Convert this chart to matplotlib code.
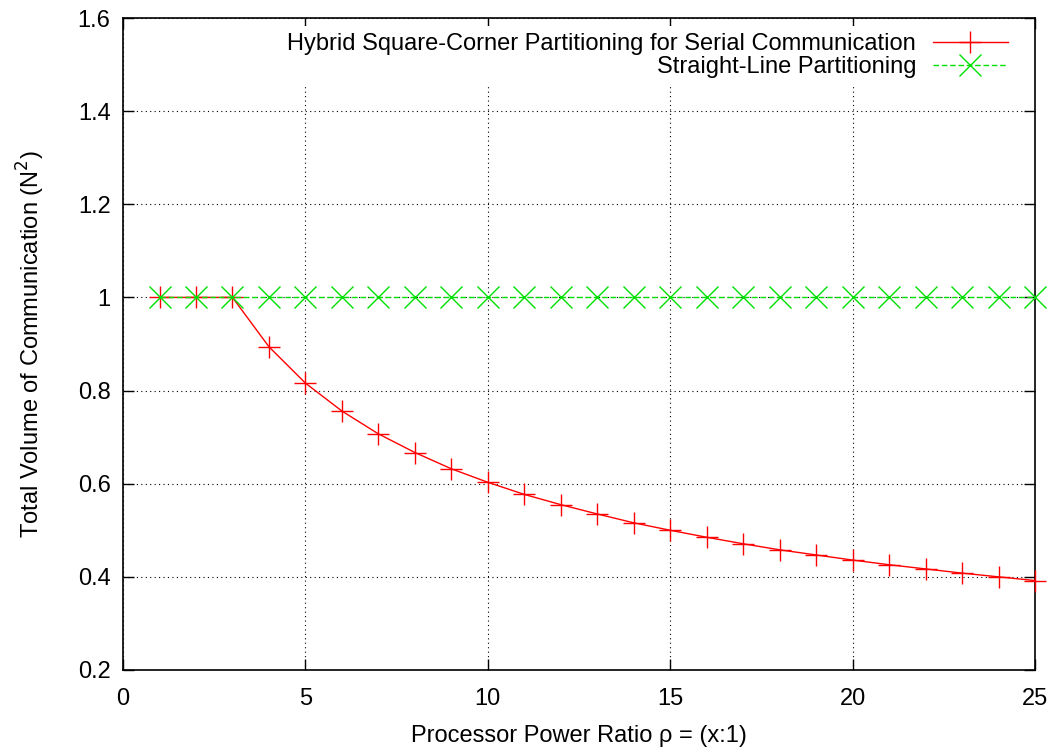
import matplotlib
matplotlib.use("Agg")
import matplotlib.pyplot as plt

plt.rcParams['font.family'] = ['Liberation Sans', 'DejaVu Sans']

ratio = list(range(1, 26))
hybrid = [1.0, 1.0, 1.0, 0.894, 0.816, 0.756, 0.707, 0.667, 0.632, 0.603,
          0.577, 0.555, 0.535, 0.516, 0.500, 0.485, 0.471, 0.458, 0.447, 0.436,
          0.426, 0.417, 0.408, 0.400, 0.392]
straight = [1.0] * 25

fig = plt.figure(figsize=(10.58, 7.47), dpi=100)
ax = fig.add_axes([0.1163, 0.1031, 0.8620, 0.8728])

ax.plot(ratio, hybrid, color="red", lw=1, marker="+", ms=16, mew=1,
        label="Hybrid Square-Corner Partitioning for Serial Communication",
        clip_on=False, zorder=3)
ax.plot(ratio, straight, color="#00e000", lw=1, ls=(0, (4, 2)), marker="x",
        ms=16, mew=1, label="Straight-Line Partitioning", clip_on=False, zorder=4)

ax.set_xlim(0, 25)
ax.set_ylim(0.2, 1.6)
ax.set_xticks([0, 5, 10, 15, 20, 25])
ax.set_yticks([0.2, 0.4, 0.6, 0.8, 1.0, 1.2, 1.4, 1.6])
ax.set_yticklabels(["0.2", "0.4", "0.6", "0.8", "1", "1.2", "1.4", "1.6"])
ax.tick_params(direction="in", length=8, width=1, top=True, right=True,
               labelsize=17, pad=9)
ax.tick_params(axis="x", pad=13)
ax.grid(True, color="black", ls=(0, (1, 3)), lw=0.8)
for s in ax.spines.values():
    s.set_linewidth(1.2)

ax.set_xlabel("Processor Power Ratio ρ = (x:1)", fontsize=17, labelpad=11)
ax.set_ylabel("Total Volume of Communication (N$^2$)", fontsize=17, labelpad=22)

# legend sits inside the top-right corner, markers after the text
leg = ax.legend(loc="upper right", bbox_to_anchor=(0.9835, 0.995),
                markerfirst=False, fontsize=17, frameon=True,
                framealpha=1, edgecolor="none", fancybox=False, handlelength=3.2,
                borderaxespad=0.2, labelspacing=0.05, handletextpad=0.7,
                borderpad=0.3)
for t in leg.get_texts():
    t.set_ha("right")
leg._legend_box.align = "right"

fig.savefig("out.png", dpi=100)
